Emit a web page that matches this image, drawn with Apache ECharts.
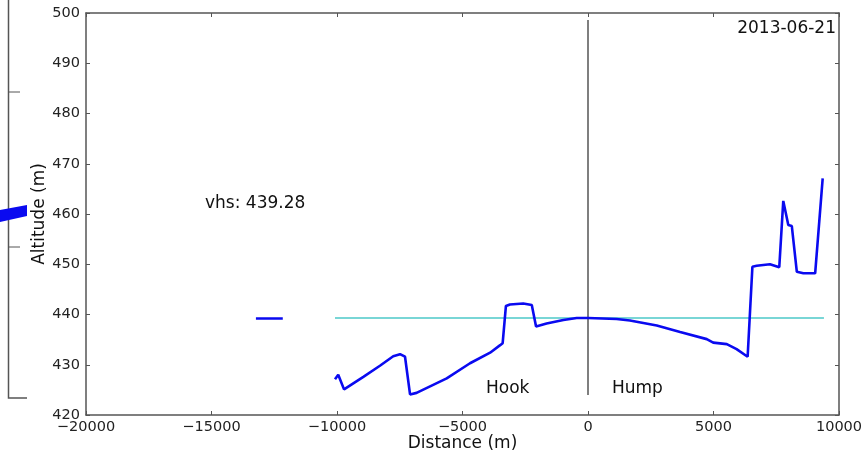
<!DOCTYPE html>
<html>
<head>
<meta charset="utf-8">
<script src="https://cdn.jsdelivr.net/npm/echarts@6/dist/echarts.min.js"></script>
<style>html,body{margin:0;padding:0;background:#fff}#c{width:862px;height:457px}</style>
</head>
<body>
<div id="c"></div>
<script>
// Data
const profileX = [-10080, -9950, -9720, -8950, -8290, -7760, -7490, -7290, -7090, -6830, -5630, -4700, -3900, -3500, -3400, -3270, -3110, -2580, -2240, -2070, -1650, -980, -450, 0, 1140, 1670, 2740, 3670, 4730, 4990, 5530, 5920, 6360, 6550, 6720, 7250, 7620, 7780, 7980, 8120, 8320, 8580, 9050, 9350];
const profileY = [427.1, 428.0, 425.1, 427.6, 429.8, 431.7, 432.1, 431.6, 424.1, 424.4, 427.3, 430.3, 432.4, 433.9, 434.3, 441.7, 442.0, 442.2, 441.9, 437.6, 438.2, 438.9, 439.3, 439.3, 439.1, 438.8, 437.8, 436.5, 435.1, 434.4, 434.1, 433.1, 431.6, 449.5, 449.7, 450.0, 449.4, 462.6, 457.8, 457.6, 448.5, 448.2, 448.2, 467.1];
const segmentX = [-13230, -12160];
const segmentY = [439.2, 439.2];
const vhsValue = 439.28;
const vhsRange = [-10080, 9400];
const markerX = 0;
const markerRange = [424, 498.6];
const xTicks = [-20000, 10000, 5000]; // min, max, interval
const yTicks = [420, 500, 10];
const annotations = ['vhs: 439.28', 'Hook', 'Hump', '2013-06-21'];

const chart = echarts.init(document.getElementById('c'));
const font = 'DejaVu Sans';
const minusFmt = v => String(v).replace('-', '\u2212');
const frame = {show: true, onZero: false, lineStyle: {color: '#555', width: 1.5}};
const tick = {show: true, inside: true, length: 4, lineStyle: {color: '#555', width: 1}};
const annFont = '17px "DejaVu Sans"';

chart.setOption({
  animation: false,
  backgroundColor: '#fff',
  grid: {left: 86, right: 23, top: 13, bottom: 42, containLabel: false, outerBoundsMode: 'none'},
  xAxis: [{
    type: 'value', min: xTicks[0], max: xTicks[1], interval: xTicks[2],
    axisLine: frame, axisTick: tick, splitLine: {show: false},
    axisLabel: {formatter: minusFmt, fontFamily: font, fontSize: 14.5, color: '#222', margin: 5},
    name: 'Distance (m)', nameLocation: 'middle', nameGap: 20, nameMoveOverlap: false,
    nameTextStyle: {fontFamily: font, fontSize: 17, color: '#111'}
  }, {
    type: 'value', position: 'top', min: xTicks[0], max: xTicks[1], interval: xTicks[2],
    axisLine: frame, axisTick: tick, axisLabel: {show: false}, splitLine: {show: false}
  }],
  yAxis: [{
    type: 'value', min: yTicks[0], max: yTicks[1], interval: yTicks[2],
    axisLine: frame, axisTick: tick, splitLine: {show: false},
    axisLabel: {fontFamily: font, fontSize: 14.5, color: '#222', margin: 6},
    name: 'Altitude (m)', nameLocation: 'middle', nameGap: 38, nameMoveOverlap: false,
    nameTextStyle: {fontFamily: font, fontSize: 17, color: '#111'}
  }, {
    type: 'value', position: 'right', min: yTicks[0], max: yTicks[1], interval: yTicks[2],
    axisLine: frame, axisTick: tick, axisLabel: {show: false}, splitLine: {show: false}
  }],
  series: [
    {type: 'line', data: [[vhsRange[0], vhsValue], [vhsRange[1], vhsValue]], symbol: 'none',
     lineStyle: {color: '#4cc9c9', width: 1.5}, z: 2},
    {type: 'line', data: profileX.map((x, i) => [x, profileY[i]]), symbol: 'none',
     lineStyle: {color: '#0a0af0', width: 2.6}, z: 3},
    {type: 'line', data: segmentX.map((x, i) => [x, segmentY[i]]), symbol: 'none',
     lineStyle: {color: '#0a0af0', width: 2.6}, z: 3},
    {type: 'line', data: [[markerX, markerRange[0]], [markerX, markerRange[1]]], symbol: 'none',
     lineStyle: {color: '#555', width: 1.5}, z: 1}
  ],
  graphic: [
    // remnant of a neighbouring figure at the left edge
    {type: 'polyline', shape: {points: [[8.5, 0], [8.5, 398], [27, 398]]}, style: {stroke: '#555', lineWidth: 1.5, fill: null}},
    {type: 'line', shape: {x1: 8.5, y1: 92, x2: 20, y2: 92}, style: {stroke: '#555', lineWidth: 1}},
    {type: 'line', shape: {x1: 8.5, y1: 247, x2: 20, y2: 247}, style: {stroke: '#555', lineWidth: 1}},
    {type: 'polygon', shape: {points: [[0, 210], [27, 205], [27, 216], [0, 222]]}, style: {fill: '#0a0af0'}},
    {type: 'text', left: 205, top: 195, style: {text: annotations[0], font: annFont, fill: '#111'}},
    {type: 'text', left: 486, top: 380, style: {text: annotations[1], font: annFont, fill: '#111'}},
    {type: 'text', left: 612, top: 380, style: {text: annotations[2], font: annFont, fill: '#111'}},
    {type: 'text', right: 26, top: 20, style: {text: annotations[3], font: annFont, fill: '#111'}}
  ]
});
</script>
</body>
</html>
